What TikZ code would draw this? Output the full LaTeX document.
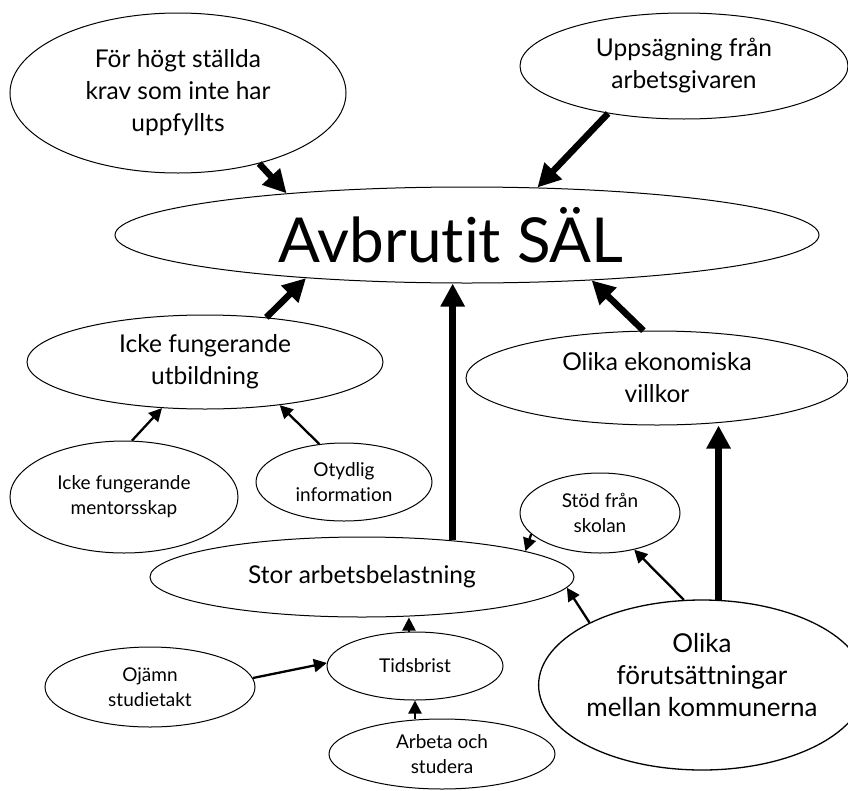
\documentclass[tikz,border=0pt]{standalone}
\usepackage{fontspec}
\setmainfont{Lato}[Ligatures=CommonOff]
\usetikzlibrary{
    arrows.meta,
    shapes.geometric
}
\tikzset{
    % Ellipses
    cause/.style n args={2}{ellipse,draw,line width=1pt,inner sep=0pt,
        minimum width=#1,minimum height=#2,align=center},
    big text/.style={font=\fontsize{24.5}{32}\selectfont},
    small text/.style={font=\fontsize{19}{25}\selectfont},
    %
    % Arrows
    arrow tip/.tip={Triangle[length=23pt,width=23pt]},
    small tip/.tip={Triangle[length=13pt,width=13pt]},
    fat arr/.style={-{arrow tip},line width=6.5pt},
    thin arr/.style={-{small tip},line width=2.3pt}
}

\begin{document}
\begin{tikzpicture}[x=1pt,y=-1pt]
        \useasboundingbox (0,0) rectangle (848,790);
        % top row
        \node[cause={336pt}{160pt},big text] (krav) at (178,93) {För högt ställda\\krav som inte har\\uppfyllts};
        \node[cause={328pt}{106pt},big text] (upps) at (684,66) {Uppsägning från\\arbetsgivaren};
        \node[cause={704pt}{96pt},font=\fontsize{62}{62}\selectfont] (sal) at (467,235) {Avbrutit SÄL\hspace*{32pt}};
        % middle row
        \node[cause={356pt}{94pt},big text] (utb) at (205,362) {Icke fungerande\\utbildning};
        \node[cause={382pt}{94pt},big text] (ekon) at (657,378) {Olika ekonomiska\\villkor};
        \node[cause={228pt}{112pt},small text] (mentor) at (124,497) {Icke fungerande\\mentorsskap};
        \node[cause={176pt}{78pt},small text] (otydlig) at (344,482) {Otydlig\\information};
        \node[cause={160pt}{80pt},small text] (stod) at (600,513) {Stöd från\\skolan};
        \node[cause={424pt}{80pt},big text] (stor) at (362,577) {Stor arbetsbelastning};
        % bottom row
        \node[cause={176pt}{68pt},small text] (tids) at (415,666) {Tidsbrist};
        \node[cause={210pt}{80pt},small text] (ojamn) at (150,687) {Ojämn\\studietakt};
        \node[cause={226pt}{70pt},small text] (arbeta) at (442,754) {Arbeta och\\studera};
        \node[cause={292pt}{170pt},line width=1.3pt,font=\fontsize{26}{32}\selectfont] (forut) at (702,685) {Olika\\förutsättningar\\mellan kommunerna\\[-12pt]\mbox{}};
        % arrows
        \draw[fat arr] (krav.-41) -- (sal.167);
        \draw[fat arr] (upps.212) -- (sal.34);
        \draw[fat arr] (utb.36) -- (sal.195);
        \draw[fat arr] (stor.22) -- (stor.22 |- sal.south);
        \draw[fat arr] (ekon.106) -- (sal.-20);
        \draw[fat arr] (forut.79) -- (forut.79 |- ekon.south);
        \draw[thin arr] (mentor.82) -- (utb.227);
        \draw[thin arr] (otydlig.123) -- (utb.-30);
        \draw[thin arr] (stod.197) -- (stor.9);
        \draw[thin arr] (forut.102) -- (stod.-47);
        \draw[thin arr] (forut.151) -- (stor.-3);
        \draw[thin arr] (tids.100) -- (tids.100 |- stor.south);
        \draw[thin arr] (ojamn.5) -- (tids.178);
        \draw[thin arr] (tids.south |- arbeta.north) -- (tids.south);
    \end{tikzpicture}
\end{document}
